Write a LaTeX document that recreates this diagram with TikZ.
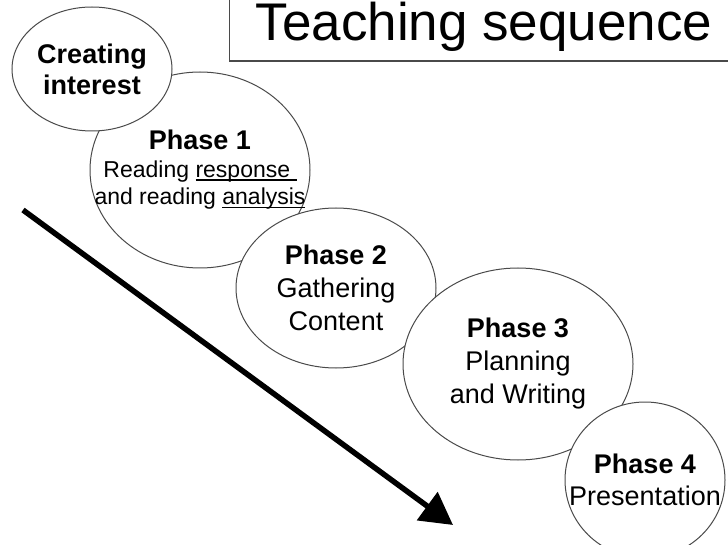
\documentclass[tikz,border=0pt]{standalone}
\usepackage{fontspec}
\setmainfont{Liberation Sans}
\usepackage{tikz}
\usetikzlibrary{shapes.geometric, arrows.meta}
\definecolor{outlinegray}{HTML}{4A4A4A}
\newsavebox\undlbox
\newcommand{\undl}[1]{\sbox\undlbox{#1}\rlap{\rule[-3.5pt]{\wd\undlbox}{1.4pt}}\usebox\undlbox}

\begin{document}
\begin{tikzpicture}[
    x=1pt, y=-1pt,
    phase/.style={
        ellipse,
        draw=outlinegray,
        fill=white,
        line width=1pt,
        inner sep=0pt
    },
    phasetext/.style={
        align=center,
        inner sep=0pt,
        font=\fontsize{27}{33}\selectfont
    },
    titlebox/.style={
        rectangle,
        draw=outlinegray,
        line width=1.2pt,
        inner xsep=26pt,
        inner ysep=9pt,
        font=\fontsize{53}{60}\selectfont
    },
    bigarrow/.style={
        -{Triangle[length=32pt, width=34pt]},
        line width=5.5pt,
        draw=black
    }
]
\useasboundingbox (0,0) rectangle (728,545);
\clip (0,0) rectangle (728,545);

% Title
\node[titlebox, anchor=base west] (title) at (229,41) {Teaching sequence};

% Phase 1 (under the starting bubble)
\node[phase, minimum width=220pt, minimum height=196pt] (phaseone) at (200,170) {};
\node[phasetext, font=\fontsize{23}{27.5}\selectfont] (phaseonetext) at (phaseone)
    {{\fontsize{27}{27.5}\selectfont\bfseries Phase 1}\\
     Reading \undl{response\ }\\
     and reading \undl{analysis}};

% Starting bubble
\node[phase, minimum width=160pt, minimum height=124pt] (interest) at (92,69) {};
\node[phasetext, font=\fontsize{27}{31}\selectfont\bfseries] (interesttext) at (interest)
    {Creating\\interest};

% Phase 2
\node[phase, minimum width=200pt, minimum height=160pt] (phasetwo) at (336,288) {};
\node[phasetext] (phasetwotext) at (phasetwo)
    {\textbf{Phase 2}\\Gathering\\Content};

% Phase 3
\node[phase, minimum width=230pt, minimum height=192pt] (phasethree) at (518,364) {};
\node[phasetext] (phasethreetext) at (phasethree)
    {\textbf{Phase 3}\\Planning\\and Writing};

% Phase 4
\node[phase, minimum width=160pt, minimum height=156pt] (phasefour) at (645,480) {};
\node[phasetext, font=\fontsize{27}{32}\selectfont] (phasefourtext) at (phasefour)
    {\textbf{Phase 4}\\Presentation};

% Direction of the sequence
\coordinate (arrowstart) at (23,210);
\coordinate (arrowend) at (453,525);
\draw[bigarrow] (arrowstart) -- (arrowend);

\end{tikzpicture}
\end{document}
